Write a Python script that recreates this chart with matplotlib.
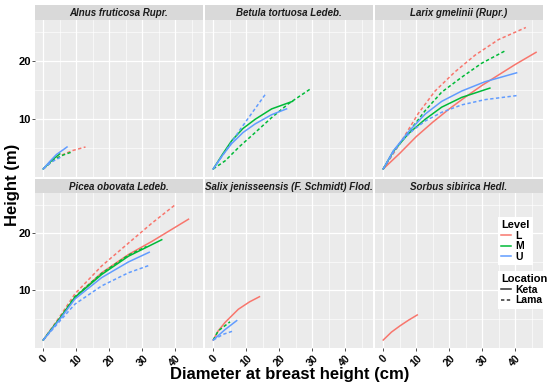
import numpy as np
import matplotlib.pyplot as plt
from matplotlib.lines import Line2D

plt.rcParams['font.family'] = ['Liberation Sans', 'DejaVu Sans']

# ---- data: (diameter cm, height m) per curve ----
species = ['Alnus fruticosa Rupr.', 'Betula tortuosa Ledeb.', 'Larix gmelinii (Rupr.)',
           'Picea obovata Ledeb.', 'Salix jenisseensis (F. Schmidt) Flod.', 'Sorbus sibirica Hedl.']
levels = ['L', 'M', 'U']
locations = ['Keta', 'Lama']

alnus_L_lama = ([0, 3, 6, 9, 12.8], [1.3, 2.8, 3.8, 4.5, 5.1])
alnus_M_keta = ([0, 3, 5], [1.3, 3.0, 3.9])
alnus_M_lama = ([0, 3, 6, 9], [1.3, 2.8, 3.7, 4.3])
alnus_U_keta = ([0, 2, 4, 6, 7.2], [1.3, 2.6, 3.8, 4.6, 5.1])
alnus_U_lama = ([0, 2.5, 5.5], [1.3, 2.5, 3.4])

betula_M_keta = ([0, 3, 5.6, 9, 12.7, 17.7, 24], [1.3, 4.0, 6.2, 8.3, 9.9, 11.7, 13.0])
betula_M_lama = ([0, 3.6, 8, 12.7, 17.7, 22.8, 29.8], [1.3, 2.7, 5.2, 7.6, 10.2, 12.6, 15.3])
betula_U_keta = ([0, 3, 5.6, 9, 12.7, 17.7, 22.2], [1.3, 3.8, 5.7, 7.6, 9.1, 10.7, 11.7])
betula_U_lama = ([0, 4, 8, 12, 16], [1.3, 4.6, 8.0, 11.2, 14.4])

larix_L_keta = ([0, 5, 10, 15, 20, 25, 30, 35, 40, 46.3],
                [1.3, 4.0, 6.9, 9.4, 11.7, 13.8, 15.8, 17.6, 19.4, 21.5])
larix_L_lama = ([0, 3, 5.6, 10.6, 15.7, 21.7, 27.8, 34.9, 43.2],
                [1.3, 3.9, 6.2, 10.9, 14.8, 18.1, 21.0, 23.7, 25.8])
larix_M_keta = ([0, 3, 7.6, 12.7, 17.7, 23.8, 32.3], [1.3, 4.3, 7.4, 9.9, 12.0, 13.7, 15.3])
larix_M_lama = ([0, 3, 7.6, 12.7, 17.7, 23.8, 29.8, 36.9], [1.3, 4.2, 7.6, 11.4, 14.6, 17.2, 19.6, 21.75])
larix_U_keta = ([0, 3, 7.6, 12.7, 17.7, 23.8, 30.8, 40.4], [1.3, 4.4, 7.7, 10.8, 13.0, 14.8, 16.4, 17.95])
larix_U_lama = ([0, 3, 5.6, 9, 12.7, 17.7, 23.8, 30.8, 40.4],
                [1.3, 4.1, 6.2, 8.0, 9.6, 11.1, 12.4, 13.3, 14.0])

picea_L_keta = ([0, 5, 9.6, 17.7, 25.8, 32.9, 44], [1.3, 5.1, 8.8, 13.1, 16.3, 18.6, 22.5])
picea_L_lama = ([0, 5, 9.6, 17.7, 25.8, 32.9, 39.9], [1.3, 5.4, 9.4, 14.3, 18.3, 21.8, 25.0])
picea_M_keta = ([0, 5, 9.6, 17.7, 25.8, 35.9], [1.3, 5.1, 8.8, 12.8, 16.0, 18.9])
picea_M_lama = ([0, 5, 9.6, 17.7, 25.8, 31.3], [1.3, 5.1, 8.9, 13.0, 16.2, 17.7])
picea_U_keta = ([0, 5, 9.6, 17.7, 25.8, 32.1], [1.3, 4.9, 8.5, 12.25, 15.0, 16.7])
picea_U_lama = ([0, 5.6, 9.6, 17.7, 25.8, 32.1], [1.3, 5.0, 7.6, 10.8, 13.1, 14.4])

salix_L_keta = ([0, 1.5, 3.6, 7.6, 11, 14], [1.3, 2.9, 4.4, 6.7, 8.0, 8.9])
salix_M_lama = ([0, 1.5, 5.1], [1.3, 2.9, 4.5])
salix_U_keta = ([0, 3.5, 7.1], [1.3, 3.1, 4.7])
salix_U_lama = ([0, 3, 6.1], [1.3, 2.3, 2.9])

sorbus_L_keta = ([0, 2.5, 5.1, 7.7, 10.3], [1.3, 2.7, 3.8, 4.8, 5.7])

curves = {
    species[0]: [('L', 'Lama', alnus_L_lama), ('M', 'Keta', alnus_M_keta), ('M', 'Lama', alnus_M_lama),
                 ('U', 'Keta', alnus_U_keta), ('U', 'Lama', alnus_U_lama)],
    species[1]: [('M', 'Keta', betula_M_keta), ('M', 'Lama', betula_M_lama),
                 ('U', 'Keta', betula_U_keta), ('U', 'Lama', betula_U_lama)],
    species[2]: [('L', 'Keta', larix_L_keta), ('L', 'Lama', larix_L_lama), ('M', 'Keta', larix_M_keta),
                 ('M', 'Lama', larix_M_lama), ('U', 'Keta', larix_U_keta), ('U', 'Lama', larix_U_lama)],
    species[3]: [('L', 'Keta', picea_L_keta), ('L', 'Lama', picea_L_lama), ('M', 'Keta', picea_M_keta),
                 ('M', 'Lama', picea_M_lama), ('U', 'Keta', picea_U_keta), ('U', 'Lama', picea_U_lama)],
    species[4]: [('L', 'Keta', salix_L_keta), ('M', 'Lama', salix_M_lama),
                 ('U', 'Keta', salix_U_keta), ('U', 'Lama', salix_U_lama)],
    species[5]: [('L', 'Keta', sorbus_L_keta)],
}

colors = {'L': '#F8766D', 'M': '#00BA38', 'U': '#619CFF'}
styles = {'Keta': '-', 'Lama': (0, (2.2, 1.6))}

W, H = 550, 386


def box(x0, y0, x1, y1):
    return [x0 / W, 1 - y1 / H, (x1 - x0) / W, (y1 - y0) / H]


fig = plt.figure(figsize=(5.5, 3.86), dpi=100)

lefts = [35, 205, 375]
rows = [(5, 20, 177), (179, 193, 348)]  # strip top, panel top, panel bottom

for i, sp in enumerate(species):
    r, c = divmod(i, 3)
    st, pt, pb = rows[r]
    x0 = lefts[c]
    x1 = x0 + 168
    ax = fig.add_axes(box(x0, pt, x1, pb))
    ax.set_facecolor('#EBEBEB')
    ax.set_xlim(-2.5, 48.4)
    ax.set_ylim(-0.1, 27.1)
    ax.set_xticks([0, 10, 20, 30, 40])
    ax.set_xticks([5, 15, 25, 35, 45], minor=True)
    ax.set_yticks([10, 20])
    ax.set_yticks([5, 15, 25], minor=True)
    ax.grid(which='major', color='white', lw=0.9)
    ax.grid(which='minor', color='white', lw=0.45)
    ax.set_axisbelow(True)
    for s in ax.spines.values():
        s.set_visible(False)
    ax.tick_params(which='both', length=2, color='#333333', width=0.6)
    ax.tick_params(which='minor', length=0)
    if r == 1:
        ax.set_xticklabels(['0', '10', '20', '30', '40'], rotation=45, ha='center', va='top',
                           fontsize=7.5, fontweight='bold')
        ax.tick_params(axis='x', pad=2)
    else:
        ax.tick_params(axis='x', length=0, labelbottom=False)
    if c == 0:
        ax.set_yticklabels(['10', '20'], fontsize=8, fontweight='bold')
        ax.tick_params(axis='y', pad=1)
    else:
        ax.tick_params(axis='y', length=0, labelleft=False)

    for lev, loc, (d, h) in curves[sp]:
        ax.plot(d, h, color=colors[lev], linestyle=styles[loc], lw=1.1)

    sax = fig.add_axes(box(x0, st, x1, pt))
    sax.set_facecolor('#D9D9D9')
    sax.set_xticks([])
    sax.set_yticks([])
    for s in sax.spines.values():
        s.set_visible(False)
    sax.text(0.5, 0.45, sp, ha='center', va='center', fontsize=7, fontweight='bold',
             fontstyle='italic', color='#1A1A1A', transform=sax.transAxes)

fig.text(290 / W, 1 - 374 / H, 'Diameter at breast height (cm)', ha='center', va='center',
         fontsize=12, fontweight='bold')
fig.text(12 / W, 1 - 185 / H, 'Height (m)', ha='center', va='center', rotation=90,
         fontsize=12, fontweight='bold')

lev_handles = [Line2D([], [], color=colors[l], lw=1.1) for l in levels]
loc_handles = [Line2D([], [], color='#333333', lw=1.1, linestyle=styles[l]) for l in locations]

leg1 = fig.legend(lev_handles, levels, title='Level', loc='upper left',
                  bbox_to_anchor=(493 / W, 1 - 212 / H), frameon=True, fancybox=False,
                  facecolor='white', edgecolor='none', framealpha=1,
                  handlelength=0.9, handletextpad=0.4, labelspacing=0.05, borderpad=0.3,
                  prop={'weight': 'bold', 'size': 7.5},
                  title_fontproperties={'weight': 'bold', 'size': 8})
leg1._legend_box.align = 'left'
leg2 = fig.legend(loc_handles, locations, title='Location', loc='upper left',
                  bbox_to_anchor=(493 / W, 1 - 266 / H), frameon=True, fancybox=False,
                  facecolor='white', edgecolor='none', framealpha=1,
                  handlelength=0.9, handletextpad=0.4, labelspacing=0.05, borderpad=0.3,
                  prop={'weight': 'bold', 'size': 7.5},
                  title_fontproperties={'weight': 'bold', 'size': 8})
leg2._legend_box.align = 'left'
fig.add_artist(leg1)

fig.savefig('out.png', dpi=100)
